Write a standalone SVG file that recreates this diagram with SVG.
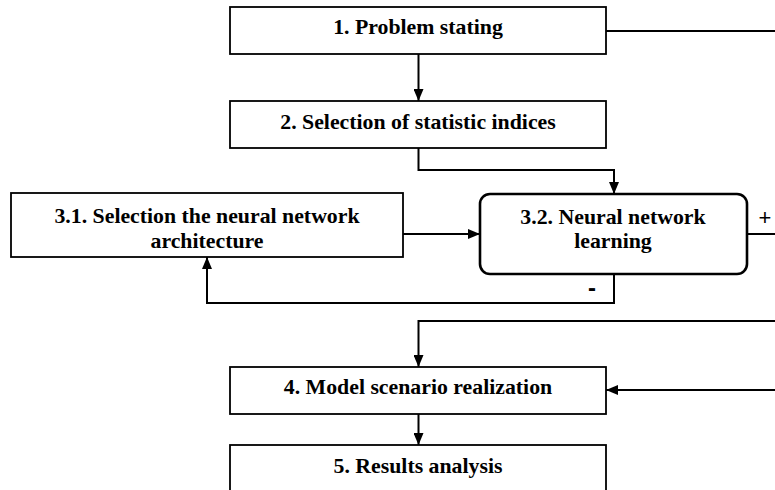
<svg xmlns="http://www.w3.org/2000/svg" width="775" height="490" viewBox="0 0 775 490">
<defs>
<marker id="ah" markerUnits="userSpaceOnUse" markerWidth="12" markerHeight="10" viewBox="0 0 12 10" refX="12" refY="5" orient="auto">
<path d="M0,0 L12,5 L0,10 z" fill="#000"/>
</marker>
</defs>
<style>
.box{fill:#fff;stroke:#000;stroke-width:1.8}
.rbox{fill:#fff;stroke:#000;stroke-width:2.6}
.t{font-family:"Liberation Serif","Times New Roman",serif;font-weight:bold;font-size:21.8px;text-anchor:middle;fill:#000}
.c{fill:none;stroke:#000;stroke-width:2}
.a{marker-end:url(#ah)}
.s{font-family:"Liberation Sans",Arial,sans-serif;font-size:22px;text-anchor:middle;fill:#000}
</style>
<g id="connectors">
<path class="c" d="M606,31 H775"/>
<path class="c a" d="M418.5,54 V101"/>
<path class="c a" d="M418.5,148 V170 H614 V194"/>
<path class="c a" d="M403,234 H480"/>
<path class="c" d="M747,234 H775"/>
<path class="c a" d="M614,274 V303 H207 V257"/>
<path class="c a" d="M775,321 H418.5 V367"/>
<path class="c a" d="M775,390 H606"/>
<path class="c a" d="M418.5,414 V445"/>
<text class="s" x="765" y="225">+</text>
<text class="s" x="592" y="296" style="font-weight:bold;font-size:24px">-</text>
</g>
<g id="n1">
<rect class="box" x="230" y="7" width="376" height="47"/>
<text class="t" x="418" y="34">1. Problem stating</text>
</g>
<g id="n2">
<rect class="box" x="230" y="101" width="376" height="47"/>
<text class="t" x="418" y="129">2. Selection of statistic indices</text>
</g>
<g id="n31">
<rect class="box" x="11" y="193" width="392" height="64"/>
<text class="t" x="207" y="223">3.1. Selection the neural network</text>
<text class="t" x="207" y="248">architecture</text>
</g>
<g id="n32">
<rect class="rbox" x="480" y="194" width="267" height="80" rx="10" ry="10"/>
<text class="t" x="613" y="224">3.2. Neural network</text>
<text class="t" x="613" y="248">learning</text>
</g>
<g id="n4">
<rect class="box" x="230" y="367" width="376" height="47"/>
<text class="t" x="418" y="394">4. Model scenario realization</text>
</g>
<g id="n5">
<rect class="box" x="230" y="445" width="376" height="60"/>
<text class="t" x="418" y="473">5. Results analysis</text>
</g>
</svg>
